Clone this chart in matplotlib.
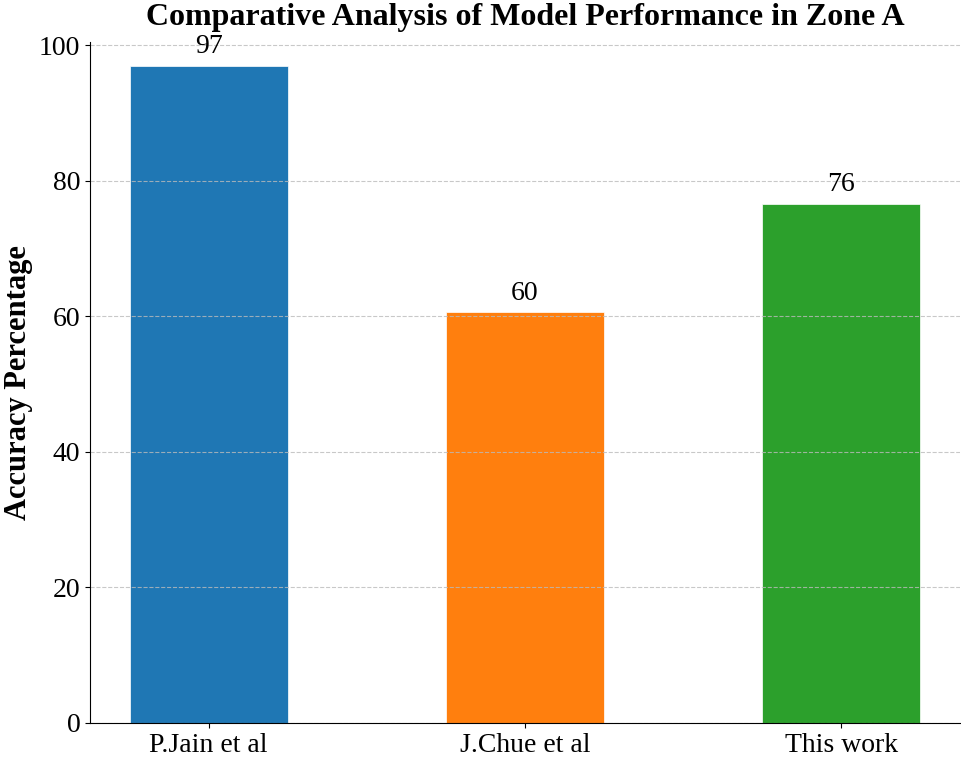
import matplotlib.pyplot as plt

plt.rcParams['font.family'] = ['Liberation Serif', 'DejaVu Serif']

models = ['P.Jain et al', 'J.Chue et al', 'This work']
accuracy = [97, 60.6, 76.6]
colors = ['#1f77b4', '#ff7f0e', '#2ca02c']

fig = plt.figure(figsize=(9.62, 7.58), dpi=100)
ax = fig.add_axes([90/962, 1-723/758, 870/962, (723-42)/758])

bars = ax.bar(models, accuracy, width=0.5, color=colors, edgecolor='white', linewidth=0.5)
for b, v in zip(bars, accuracy):
	ax.text(b.get_x() + b.get_width()/2, v + 1, '{}'.format(int(v)),
			ha='center', va='bottom', fontsize=20)

ax.set_ylim(0, 100.5)
ax.set_ylabel('Accuracy Percentage', fontsize=22, fontweight='bold')
ax.set_title('Comparative Analysis of Model Performance in Zone A', fontsize=23, fontweight='bold', pad=12)
ax.tick_params(labelsize=20)
ax.grid(axis='y', linestyle='--', color='#bbbbbb', alpha=0.8)
ax.spines['top'].set_visible(False)
ax.spines['right'].set_visible(False)

fig.savefig('out.png', dpi=100)
